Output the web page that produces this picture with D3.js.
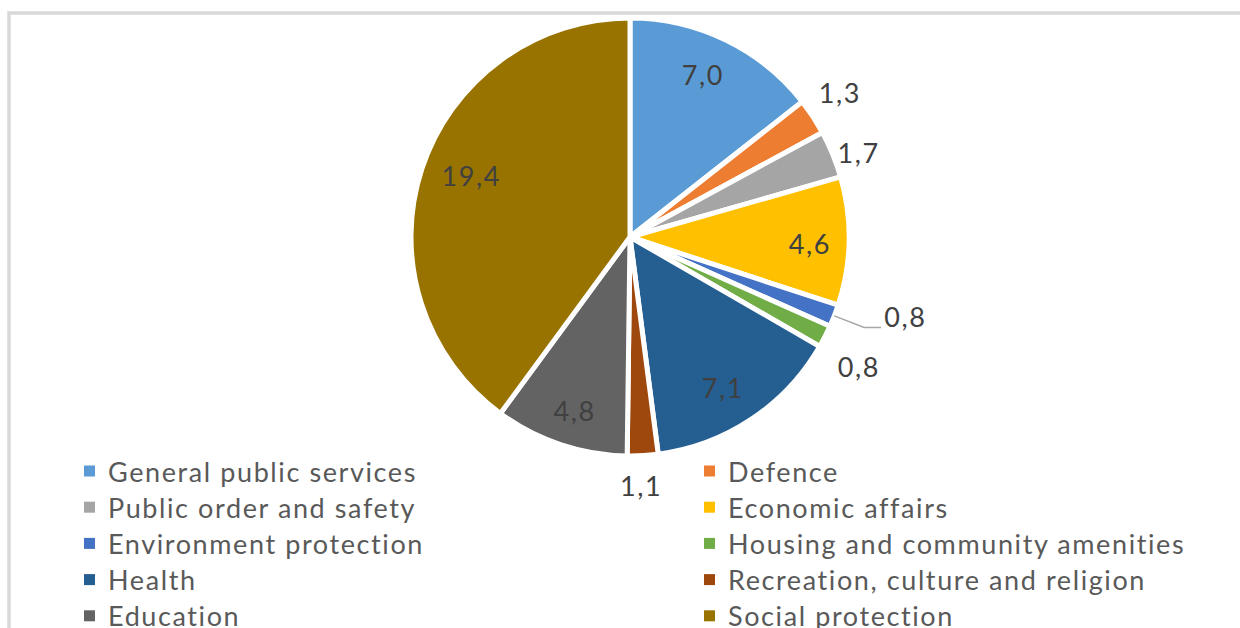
<!DOCTYPE html>
<html>
<head>
<meta charset="utf-8">
<script src="https://cdn.jsdelivr.net/npm/d3@7"></script>
<style>
  html, body { margin: 0; padding: 0; background: #ffffff; }
  svg { display: block; }
</style>
</head>
<body>
<svg id="chart" width="1240" height="628"></svg>
<script>
// Government expenditure by function (% of total)
const categories = [
  "General public services",
  "Defence",
  "Public order and safety",
  "Economic affairs",
  "Environment protection",
  "Housing and community amenities",
  "Health",
  "Recreation, culture and religion",
  "Education",
  "Social protection"
];
const values = [7.0, 1.3, 1.7, 4.6, 0.8, 0.8, 7.1, 1.1, 4.8, 19.4];
const colors = [
  "#5B9BD5", "#ED7D31", "#A5A5A5", "#FFC000", "#4472C4",
  "#70AD47", "#255E91", "#9E480E", "#636363", "#997300"
];

// Data label placement: distance of the label centre from the pie centre (px)
// and a small angular nudge (degrees) off the slice's mid angle.
// null distance marks the label drawn with a leader line.
const labelDistance = [178, 254, 243, 179, null, 262, 176, 249, 182, 171];
const labelNudge    = [-2.1, -1.3, 1.8, 0.9, 0, 2.5, 2.2, 1.0, -0.5, 2.8];

const fmt = v => d3.format(".1f")(v).replace(".", ",");

const svg = d3.select("#chart");
const W = 1240, H = 628;
const cx = 630, cy = 237, R = 219;
const FONT = "Lato, 'Open Sans', sans-serif";

// chart area frame
svg.append("rect")
  .attr("x", 9).attr("y", 13)
  .attr("width", W + 20).attr("height", H + 20)
  .attr("fill", "none")
  .attr("stroke", "#d9d9d9")
  .attr("stroke-width", 3.5);

const data = categories.map((c, i) => ({
  name: c, value: values[i], color: colors[i],
  dist: labelDistance[i], nudge: labelNudge[i]
}));

const pie = d3.pie().value(d => d.value).sort(null);
const arcs = pie(data);
const arc = d3.arc().innerRadius(0).outerRadius(R);

const g = svg.append("g").attr("transform", `translate(${cx},${cy})`);

g.selectAll("path.slice")
  .data(arcs)
  .join("path")
  .attr("class", "slice")
  .attr("d", arc)
  .attr("fill", d => d.data.color)
  .attr("stroke", "#ffffff")
  .attr("stroke-width", 5)
  .attr("stroke-linejoin", "round");

// data labels
const labelFont = 27;
function label(x, y, anchor, txt) {
  g.append("text")
    .attr("x", x)
    .attr("y", y)
    .attr("text-anchor", anchor)
    .attr("dominant-baseline", "central")
    .attr("font-family", FONT)
    .attr("font-size", labelFont)
    .attr("letter-spacing", 1.6)
    .attr("fill", "#404040")
    .text(txt);
}
arcs.forEach(a => {
  const mid = (a.startAngle + a.endAngle) / 2;
  if (a.data.dist !== null) {
    const ang = mid + a.data.nudge * Math.PI / 180;
    label(Math.sin(ang) * a.data.dist + 1, -Math.cos(ang) * a.data.dist, "middle", fmt(a.data.value));
  } else {
    // leader line: from slice edge out to an elbow, then horizontal
    const sx = Math.sin(mid), sy = -Math.cos(mid);
    const p0 = [sx * R, sy * R];
    const p1 = [sx * 251, sy * 251];
    const p2 = [p1[0] + 17, p1[1]];
    g.append("polyline")
      .attr("points", [p0, p1, p2].map(p => p.join(",")).join(" "))
      .attr("fill", "none")
      .attr("stroke", "#a6a6a6")
      .attr("stroke-width", 1.5);
    label(p2[0] + 3, p2[1] - 11, "start", fmt(a.data.value));
  }
});

// legend: two columns, filled row by row
const legend = svg.append("g");
const colX = [84, 704];
const rowY0 = 471, rowStep = 36.2;
data.forEach((d, i) => {
  const col = i % 2, row = Math.floor(i / 2);
  const x = colX[col], y = rowY0 + row * rowStep;
  legend.append("rect")
    .attr("x", x).attr("y", y - 5.5)
    .attr("width", 11).attr("height", 11)
    .attr("fill", d.color);
  legend.append("text")
    .attr("x", x + 24).attr("y", y)
    .attr("dominant-baseline", "central")
    .attr("font-family", FONT)
    .attr("font-size", 27)
    .attr("letter-spacing", 1.6)
    .attr("fill", "#595959")
    .text(d.name);
});
</script>
</body>
</html>
